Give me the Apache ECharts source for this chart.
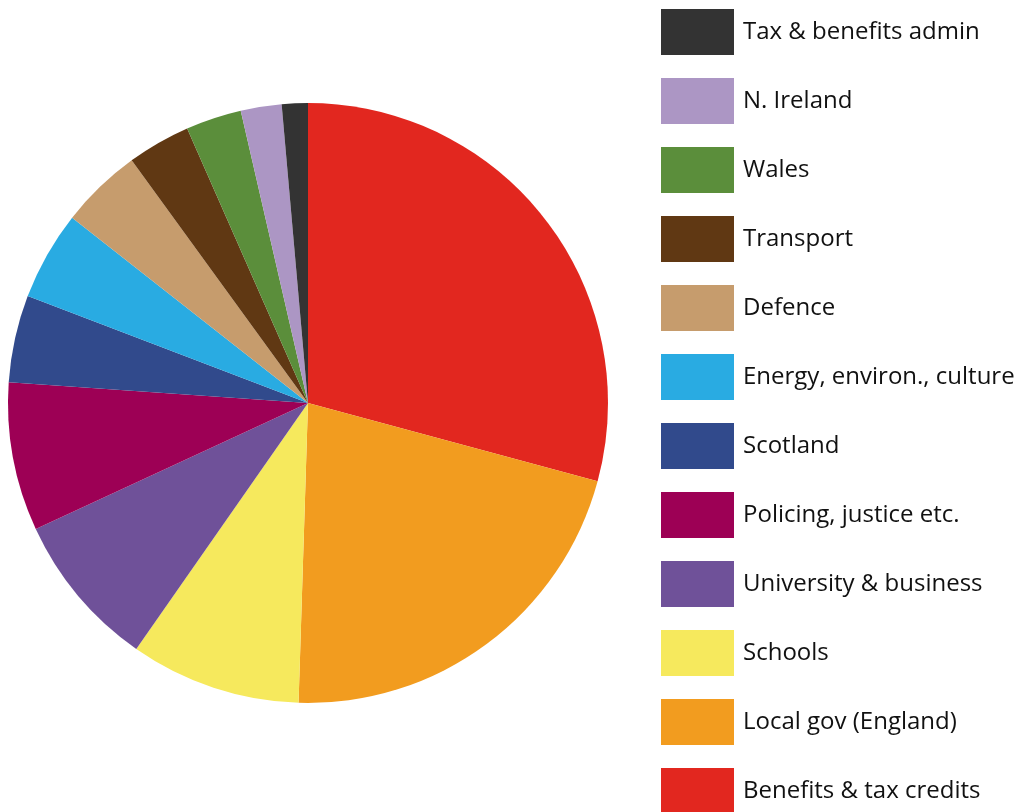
<!DOCTYPE html>
<html>
<head>
<meta charset="utf-8">
<script src="https://cdn.jsdelivr.net/npm/echarts@6/dist/echarts.min.js"></script>
<style>html,body{margin:0;padding:0;background:#fff;}#c{width:1019px;height:812px;}</style>
</head>
<body>
<div id="c"></div>
<script>
const categories = ["Benefits & tax credits","Local gov (England)","Schools","University & business","Policing, justice etc.","Scotland","Energy, environ., culture","Defence","Transport","Wales","N. Ireland","Tax & benefits admin"];
const values = [29.2, 21.3, 9.2, 8.4, 8.0, 4.7, 4.8, 4.4, 3.4, 3.0, 2.2, 1.4];
const colors = ["#e2271f","#f29c1f","#f6e95d","#6f5199","#9d0055","#314a8c","#29abe2","#c69c6d","#603813","#5b8e3b","#ac96c4","#333333"];

const chart = echarts.init(document.getElementById('c'), null, {renderer:'canvas'});
chart.setOption({
  animation: false,
  color: colors,
  legend: {
    orient: 'vertical',
    left: 661,
    top: 9,
    height: 812,
    padding: 0,
    itemWidth: 73,
    itemHeight: 46,
    itemGap: 23,
    icon: 'rect',
    data: categories.slice().reverse(),
    textStyle: { fontFamily: 'Open Sans', fontSize: 24, color: '#111', padding: [0,0,0,4] },
    selectedMode: false
  },
  series: [{
    type: 'pie',
    center: [308, 403],
    radius: 300,
    startAngle: 90,
    clockwise: true,
    label: { show: false },
    labelLine: { show: false },
    itemStyle: { borderWidth: 0 },
    emphasis: { disabled: true },
    data: categories.map((n,i)=>({name:n, value:values[i], itemStyle:{color:colors[i]}}))
  }]
});
</script>
</body>
</html>
